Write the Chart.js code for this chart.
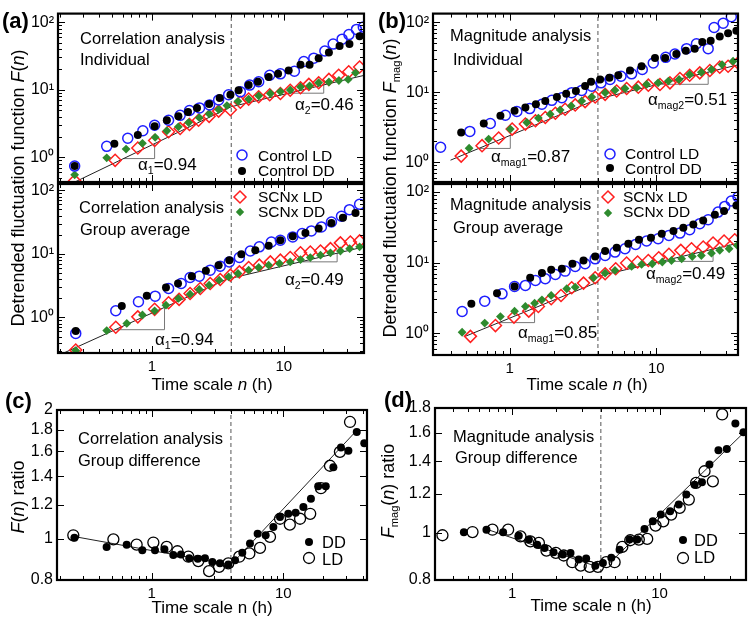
<!DOCTYPE html>
<html>
<head>
<meta charset="utf-8">
<script src="https://cdn.jsdelivr.net/npm/chart.js@4.4.1/dist/chart.umd.min.js"></script>
<style>
  body { margin: 0; background: #fff; }
  #fig { position: relative; width: 753px; height: 623px; overflow: hidden;
         font-family: "Liberation Sans", Arial, sans-serif; color: #000; }
  #fig canvas { position: absolute; left: 0; top: 0; }
  .t { position: absolute; z-index: 2; white-space: nowrap; line-height: 1; font-size: 16.5px; transform: translateY(-50%); }
  .lg { font-size: 15.5px; }
  .ax { font-size: 17px; transform: translate(-50%, -50%); }
  .vx { font-size: 18px; transform: translate(-50%, -50%) rotate(-90deg); }
  .al { font-size: 17px; }
  .pl { font-size: 22px; font-weight: bold; }
  .t sub { font-size: 0.62em; vertical-align: -0.4em; line-height: 0; }
  .mk { position: absolute; z-index: 2; transform: translate(-50%, -50%); }
</style>
</head>
<body>
<div id="fig">
  <div class="t pl" style="left:2px;top:21px">(a)</div>
  <div class="t pl" style="left:378px;top:21px">(b)</div>
  <div class="t pl" style="left:5px;top:401px">(c)</div>
  <div class="t pl" style="left:384px;top:400px">(d)</div>

  <div class="t vx" style="left:18px;top:188px">Detrended fluctuation function <i>F</i>(<i>n</i>)</div>
  <div class="t vx" style="left:390px;top:188px">Detrended fluctuation function <i>F</i><sub>mag</sub>(<i>n</i>)</div>
  <div class="t vx" style="left:18px;top:497px"><i>F</i>(<i>n</i>) ratio</div>
  <div class="t vx" style="left:388px;top:491px"><i>F</i><sub>mag</sub>(<i>n</i>) ratio</div>
  <div class="t ax" style="left:212px;top:384px">Time scale <i>n</i> (h)</div>
  <div class="t ax" style="left:587px;top:384px">Time scale <i>n</i> (h)</div>
  <div class="t ax" style="left:212px;top:607px">Time scale n (h)</div>
  <div class="t ax" style="left:591px;top:605px">Time scale n (h)</div>

  <div class="t" style="left:80px;top:38px">Correlation analysis</div>
  <div class="t" style="left:80px;top:59px">Individual</div>
  <div class="t" style="left:79px;top:207px">Correlation analysis</div>
  <div class="t" style="left:80px;top:229px">Group average</div>
  <div class="t" style="left:450px;top:35px">Magnitude analysis</div>
  <div class="t" style="left:453px;top:59px">Individual</div>
  <div class="t" style="left:450px;top:204px">Magnitude analysis</div>
  <div class="t" style="left:453px;top:227px">Group average</div>
  <div class="t" style="left:78px;top:438px">Correlation analysis</div>
  <div class="t" style="left:78px;top:460px">Group difference</div>
  <div class="t" style="left:453px;top:436px">Magnitude analysis</div>
  <div class="t" style="left:455px;top:457px">Group difference</div>

  <div class="t al" style="left:138px;top:164px">α<sub>1</sub>=0.94</div>
  <div class="t al" style="left:295px;top:104px">α<sub>2</sub>=0.46</div>
  <div class="t al" style="left:155px;top:339px">α<sub>1</sub>=0.94</div>
  <div class="t al" style="left:285px;top:279px">α<sub>2</sub>=0.49</div>
  <div class="t al" style="left:491px;top:156px">α<sub>mag1</sub>=0.87</div>
  <div class="t al" style="left:648px;top:99px">α<sub>mag2</sub>=0.51</div>
  <div class="t al" style="left:518px;top:332px">α<sub>mag1</sub>=0.85</div>
  <div class="t al" style="left:646px;top:273px">α<sub>mag2</sub>=0.49</div>

  <svg class="mk" style="left:242px;top:155px" width="14" height="14"><circle cx="7" cy="7" r="5" fill="none" stroke="#1f1fff" stroke-width="1.5"/></svg>
  <div class="t lg" style="left:258px;top:156px">Control LD</div>
  <svg class="mk" style="left:242px;top:171px" width="10" height="10"><circle cx="5" cy="5" r="4" fill="#000"/></svg>
  <div class="t lg" style="left:258px;top:171px">Control DD</div>
  <svg class="mk" style="left:240px;top:197px" width="16" height="16"><polygon points="8,2 14,8 8,14 2,8" fill="none" stroke="#ff1f1f" stroke-width="1.5"/></svg>
  <div class="t lg" style="left:258px;top:197px">SCNx LD</div>
  <svg class="mk" style="left:240px;top:212px" width="10" height="10"><polygon points="5,0.8 9.2,5 5,9.2 0.8,5" fill="#2e8b2e"/></svg>
  <div class="t lg" style="left:258px;top:212px">SCNx DD</div>

  <svg class="mk" style="left:610px;top:154px" width="14" height="14"><circle cx="7" cy="7" r="5" fill="none" stroke="#1f1fff" stroke-width="1.5"/></svg>
  <div class="t lg" style="left:625px;top:154px">Control LD</div>
  <svg class="mk" style="left:610px;top:168px" width="10" height="10"><circle cx="5" cy="5" r="4" fill="#000"/></svg>
  <div class="t lg" style="left:625px;top:169px">Control DD</div>
  <svg class="mk" style="left:608px;top:197px" width="16" height="16"><polygon points="8,2 14,8 8,14 2,8" fill="none" stroke="#ff1f1f" stroke-width="1.5"/></svg>
  <div class="t lg" style="left:623px;top:197px">SCNx LD</div>
  <svg class="mk" style="left:608px;top:213px" width="10" height="10"><polygon points="5,0.8 9.2,5 5,9.2 0.8,5" fill="#2e8b2e"/></svg>
  <div class="t lg" style="left:623px;top:212px">SCNx DD</div>

  <svg class="mk" style="left:309px;top:542px" width="10" height="10"><circle cx="5" cy="5" r="4" fill="#000"/></svg>
  <div class="t" style="left:322px;top:542px">DD</div>
  <svg class="mk" style="left:309px;top:558px" width="14" height="14"><circle cx="7" cy="7" r="5.5" fill="none" stroke="#000" stroke-width="1.3"/></svg>
  <div class="t" style="left:322px;top:559px">LD</div>
  <svg class="mk" style="left:683px;top:540px" width="10" height="10"><circle cx="5" cy="5" r="4" fill="#000"/></svg>
  <div class="t" style="left:694px;top:540px">DD</div>
  <svg class="mk" style="left:683px;top:558px" width="14" height="14"><circle cx="7" cy="7" r="5.5" fill="none" stroke="#000" stroke-width="1.3"/></svg>
  <div class="t" style="left:694px;top:557px">LD</div>
</div>

<script>
// ---- (a) correlation, individual ----
const aTopCtrlLD_n = [0.26,0.455,0.657,0.855,1.05,1.34,1.64,1.93,2.30,2.74,3.21,3.82,4.69,5.52,6.46,7.83,9.44,12.05,14.2,16.9,20.5,23.7,27.7,31.2,35.6,40.1];
const aTopCtrlLD_F = [0.74,1.45,1.91,2.47,2.98,3.53,4.17,4.92,5.38,5.96,7.04,8.41,9.31,11.7,13.1,16.4,17.2,18.8,26.2,29.3,37.5,47.4,56.0,65.5,78.2,84.6];
const aTopCtrlDD_n = [0.26,0.52,0.783,1.05,1.30,1.59,1.88,2.20,2.72,3.27,3.94,4.55,5.42,6.38,7.69,9.06,10.9,13.4,15.7,18.4,22.0,26.5,31.5,37.6];
const aTopCtrlDD_F = [0.74,1.58,2.13,2.88,3.53,4.03,4.66,5.38,6.15,7.53,8.41,9.84,11.7,13.1,15.4,17.2,19.2,23.5,23.5,29.3,35.5,44.3,47.4,61.9];
const aTopScnLD_n = [0.26,0.527,0.783,1.05,1.34,1.64,1.93,2.26,2.72,3.21,3.94,4.69,5.42,6.46,7.83,9.44,11.2,13.4,15.5,18.4,22.0,26.1,31.1,37.6];
const aTopScnLD_F = [0.45,0.90,1.37,1.77,2.39,2.67,3.05,3.53,4.03,4.82,5.04,6.51,7.27,7.87,8.41,8.79,9.84,10.7,12.0,12.7,14.2,16.4,18.4,21.7];
const aTopScnDD_n = [0.26,0.455,0.638,0.849,1.06,1.30,1.59,1.90,2.29,2.72,3.21,3.71,4.50,5.42,6.46,7.92,9.44,11.2,13.4,15.7,18.4,22.0,26.2,30.8,35.0];
const aTopScnDD_F = [0.55,0.98,1.32,1.61,1.97,2.47,2.82,3.26,3.85,4.41,5.09,5.82,6.73,7.27,8.13,8.79,9.40,9.94,11.0,11.4,12.7,13.0,13.7,14.2,17.8];
const aTopFit1 = [[0.19,0.319],[4,5.6]];
const aTopFit2 = [[4,5.6],[40.6,16.3]];
const aTopTri1 = [[0.61,0.956],[1.05,0.956],[1.05,1.59]];
const aTopTri2 = [[10.9,8.88],[20.1,8.88],[20.1,11.77]];

// ---- (a) correlation, group average ----
const aBotCtrlLD_n = [0.265,0.533,0.792,1.06,1.34,1.67,1.95,2.29,2.77,3.30,3.87,4.61,5.58,6.53,8.06,9.43,11.7,13.8,16.2,19.3,23.0,27.4,31.5,37.6];
const aBotCtrlLD_F = [0.56,1.27,1.76,2.16,2.85,3.42,4.25,4.46,5.54,6.40,7.48,8.76,11.1,12.9,15.4,16.4,18.5,20.9,23.0,26.6,31.8,39.1,49.7,60.3];
const aBotCtrlDD_n = [0.265,0.592,0.916,1.28,1.58,2.01,2.57,3.21,3.87,4.77,6.09,7.69,9.43,11.7,14.6,18.4,23.0,28.1,35.0];
const aBotCtrlDD_F = [0.61,1.51,2.19,2.96,3.42,4.46,5.41,6.64,7.96,9.88,11.4,13.4,16.4,18.9,21.4,25.0,30.7,37.2,44.1];
const aBotScnLD_n = [0.265,0.533,0.783,1.05,1.34,1.61,1.95,2.33,2.77,3.30,3.94,4.61,5.42,6.53,7.92,9.43,11.2,13.4,15.9,19.0,22.6,26.9,32.0,37.6];
const aBotScnLD_F = [0.307,0.70,1.02,1.34,1.70,1.92,2.38,2.85,3.42,3.95,4.62,5.21,6.10,6.64,7.48,7.96,8.76,10.4,10.7,11.1,12.1,14.9,15.4,16.0];
const aBotScnDD_n = [0.265,0.455,0.646,0.849,1.05,1.28,1.59,1.95,2.29,2.72,3.24,3.82,4.50,5.42,6.46,7.69,9.28,11.2,13.4,15.9,19.0,22.6,26.9,31.6,37.6];
const aBotScnDD_F = [0.30,0.62,0.805,1.09,1.27,1.56,1.99,2.32,2.75,3.22,3.86,4.35,4.91,5.54,6.10,6.64,7.05,7.48,8.15,8.76,9.53,10.4,11.1,12.1,12.9];
const aBotFit1 = [[0.19,0.245],[4,4.3]];
const aBotFit2 = [[4,4.14],[40.6,12.9]];
const aBotTri1 = [[0.527,0.64],[1.248,0.64],[1.248,1.44]];
const aBotTri2 = [[13.4,7.49],[25.4,7.49],[25.4,10.25]];

// ---- (b) magnitude, individual ----
const bTopCtrlLD_n = [0.338,0.535,0.738,0.935,1.12,1.37,1.66,1.94,2.27,2.65,3.10,3.63,4.20,4.84,5.75,6.79,8.03,9.54,11.6,13.4,16.1,18.8,22.6,24.8,28.6,32.5];
const bTopCtrlLD_F = [1.63,2.75,3.57,4.69,5.29,5.83,6.72,7.65,8.36,9.84,10.6,12.2,13.6,15.2,16.9,18.3,21.1,26.2,31.5,35.2,41.9,49.3,41.9,84.0,96.8,120];
const bTopCtrlDD_n = [0.467,0.666,0.865,1.08,1.28,1.51,1.75,2.10,2.43,2.83,3.27,3.59,4.14,4.79,5.51,6.62,7.94,9.80,11.5,13.7,15.9,18.3,20.6,23.5,27.1,30.9,35.2];
const bTopCtrlDD_F = [2.66,3.57,4.59,5.41,6.03,6.72,7.50,8.53,9.52,10.4,12.3,14.1,15.2,16.1,17.5,20.4,23.5,30.8,30.8,35.2,39.2,41.9,52.0,54.4,62.6,69.8,75.4];
const bTopScnLD_n = [0.467,0.648,0.842,1.04,1.28,1.50,1.75,2.05,2.39,2.80,3.27,3.83,4.48,5.37,6.28,7.54,8.83,10.6,12.4,14.5,16.9,19.8,23.2,27.1,30.9,36.1];
const bTopScnLD_F = [1.22,1.72,2.21,2.97,3.50,3.90,4.35,5.01,5.71,6.58,7.33,8.54,9.31,10.4,11.3,11.8,12.6,12.9,13.6,15.7,17.5,18.9,20.4,22.8,23.5,26.2];
const bTopScnDD_n = [0.529,0.719,1.01,1.31,1.57,1.89,2.21,2.63,3.10,3.63,4.48,5.23,6.12,7.35,8.59,10.3,12.1,14.3,16.9,20.3,23.8,28.1,33.4];
const bTopScnDD_F = [1.58,2.14,2.97,3.69,4.26,4.85,5.58,6.37,7.50,8.54,9.84,10.7,11.3,11.6,12.9,13.6,14.4,15.2,17.9,19.3,21.1,24.8,27.7];
const bTopFit1 = [[0.395,1.067],[4,8.0]];
const bTopFit2 = [[4,8.0],[36.1,24.6]];
const bTopTri1 = [[0.615,1.57],[1.01,1.57],[1.01,2.41]];
const bTopTri2 = [[10.3,12.97],[22.6,12.97],[22.6,19.4]];

// ---- (b) magnitude, group average ----
const bBotCtrlLD_n = [0.474,0.676,0.887,1.08,1.28,1.50,1.75,2.05,2.39,2.80,3.27,3.83,4.48,5.23,6.12,7.23,8.59,10.3,12.2,14.5,16.9,19.8,22.6,26.4,29.3,32.5,36.1];
const bBotCtrlLD_F = [2.03,2.84,3.61,4.59,4.75,5.58,5.90,6.79,7.57,8.83,9.63,11.3,12.6,14.1,15.7,18.1,20.2,21.8,24.3,26.2,29.2,35.6,40.5,52.0,62.6,74.5,84.9];
const bBotCtrlDD_n = [0.548,0.820,1.08,1.38,1.66,1.92,2.27,2.68,3.19,3.83,4.48,5.37,6.45,7.62,9.20,10.9,13.1,15.3,17.9,20.9,25.1,29.0,35.2];
const bBotCtrlDD_F = [2.61,3.69,4.59,6.09,7.10,7.91,8.18,9.63,10.7,12.2,14.6,16.2,18.5,21.1,22.5,25.6,28.0,31.2,34.8,39.6,47.7,53.7,64.7];
const bBotScnLD_n = [0.540,0.800,1.07,1.35,1.57,1.92,2.24,2.65,3.19,3.83,4.48,5.29,6.28,7.46,8.83,10.4,12.2,14.7,17.4,20.9,24.4,29.0,34.3];
const bBotScnLD_F = [0.90,1.28,1.69,2.05,2.39,3.07,3.42,4.40,5.12,6.09,6.95,8.18,9.84,10.2,10.7,11.7,13.1,14.9,15.7,16.6,18.9,20.2,21.1];
const bBotScnDD_n = [0.474,0.676,0.865,1.08,1.28,1.48,1.66,1.92,2.45,2.80,3.73,4.48,5.23,6.79,7.94,9.39,11.0,12.7,14.9,17.6,20.3,23.8,27.1,31.4,35.7];
const bBotScnDD_F = [1.03,1.39,1.72,2.05,2.39,2.66,2.97,3.42,4.26,4.49,6.09,7.10,7.74,8.83,9.42,9.63,10.2,10.7,11.3,12.2,12.6,13.6,14.9,15.7,17.5];
const bBotFit1 = [[0.499,0.903],[4,5.3]];
const bBotFit2 = [[4,6.4],[36.1,18.8]];
const bBotTri1 = [[0.842,1.41],[1.479,1.41],[1.479,2.28]];
const bBotTri2 = [[10.85,10.4],[24.4,10.4],[24.4,15.5]];

// ---- (c) correlation, group difference ----
const cDD_n = [0.259,0.455,0.646,0.849,1.06,1.25,1.46,1.67,1.93,2.24,2.54,2.89,3.30,3.82,4.30,4.88,5.58,6.38,7.34,8.40,9.43,10.9,12.4,14.2,16.2,18.4,21.0,24.0,27.4,31.2,36.1,41.2];
const cDD_r = [1.004,0.956,0.968,0.939,0.939,0.944,0.915,0.918,0.899,0.897,0.899,0.882,0.875,0.870,0.890,0.926,0.974,1.027,1.018,1.064,1.123,1.143,1.150,1.185,1.239,1.326,1.326,1.468,1.634,1.605,1.777,1.672];
const cLD_n = [0.254,0.512,0.769,1.03,1.30,1.57,1.90,2.26,2.73,3.25,3.82,4.63,5.52,6.65,7.92,9.44,11.2,13.4,16.0,19.3,22.6,26.9,32.1];
const cLD_r = [1.018,0.996,0.968,0.979,0.956,0.934,0.907,0.886,0.839,0.859,0.875,0.907,0.923,0.951,1.009,1.113,1.078,1.113,1.143,1.312,1.481,1.596,1.875];
const cFit1 = [[0.254,1.012],[4,0.868]];
const cFit2 = [[4.1,0.875],[36,1.79]];

// ---- (d) magnitude, group difference ----
const dDD_n = [0.471,0.670,0.869,1.11,1.30,1.48,1.66,1.91,2.21,2.49,2.83,3.18,3.67,4.13,4.71,5.36,6.26,7.06,7.91,9.01,10.2,11.8,13.5,15.2,17.3,19.4,21.8,25.1,28.6,32.7,37.1];
const dDD_r = [1.002,1.014,1.002,0.986,0.968,0.945,0.930,0.912,0.902,0.909,0.881,0.885,0.856,0.867,0.888,0.923,0.968,0.968,1.018,1.055,1.089,1.106,1.142,1.197,1.254,1.268,1.379,1.475,1.484,1.673,1.606];
const dLD_n = [0.337,0.539,0.736,0.940,1.14,1.33,1.52,1.71,1.98,2.24,2.56,2.92,3.36,3.82,4.35,4.96,5.59,6.33,7.24,8.25,9.40,10.6,12.0,13.7,15.8,17.7,20.2,23.0,26.6];
const dLD_r = [0.988,1.003,1.014,1.014,0.983,0.960,0.953,0.919,0.909,0.898,0.870,0.856,0.851,0.851,0.870,0.870,0.935,0.965,0.968,0.971,1.034,1.055,1.089,1.124,1.169,1.265,1.336,1.274,1.746];
const dFit1 = [[0.688,1.014],[3.73,0.853]];
const dFit2 = [[4.59,0.867],[37.6,1.606]];

// ticks and labels
const splitN = 4;
const xTickVals = [1, 10];
const decTickVals = [1, 10, 100];
const decTickLabels = ['10⁰', '10¹', '10²'];
const cTickVals = [0.8, 1, 1.2, 1.4, 1.6, 1.8, 2];
const dTickVals = [0.8, 1, 1.2, 1.4, 1.6, 1.8];

const W = 753, H = 623;
const xFont = { family: 'Liberation Sans, Arial, sans-serif', size: 15 };
const yFont = { family: 'Liberation Sans, Arial, sans-serif', size: 16 };

const pts = (xs, ys) => xs.map((x, i) => ({ x: x, y: ys[i] }));
const pairs = p => p.map(q => ({ x: q[0], y: q[1] }));

const sty = {
  ctrlLD: { pointStyle: 'circle', pointRadius: 5, borderWidth: 1.5, borderColor: '#1f1fff', backgroundColor: 'rgba(0,0,0,0)', order: 2 },
  ctrlDD: { pointStyle: 'circle', pointRadius: 4, borderWidth: 0, borderColor: '#000', backgroundColor: '#000', order: 1 },
  scnLD: { pointStyle: 'rectRot', pointRadius: 6, borderWidth: 1.5, borderColor: '#ff1f1f', backgroundColor: 'rgba(0,0,0,0)', order: 4 },
  scnDD: { pointStyle: 'rectRot', pointRadius: 4.4, borderWidth: 0, borderColor: '#2e8b2e', backgroundColor: '#2e8b2e', order: 3 },
  difDD: { pointStyle: 'circle', pointRadius: 4, borderWidth: 0, borderColor: '#000', backgroundColor: '#000', order: 1 },
  difLD: { pointStyle: 'circle', pointRadius: 5.5, borderWidth: 1.3, borderColor: '#000', backgroundColor: 'rgba(0,0,0,0)', order: 2 }
};

function series(xs, ys, s) {
  return Object.assign({ data: pts(xs, ys), showLine: false, clip: 0 }, s);
}
function line(p, color, order, dash) {
  return { data: pairs(p), showLine: true, pointRadius: 0, borderColor: color, borderWidth: 1,
           borderDash: dash || [], fill: false, clip: 0, order: order };
}
function split(y) {
  return line([[splitN, y[0]], [splitN, y[1]]], '#555', 9, [4, 3]);
}

function logTicks(min, max) {
  const major = [], minor = [];
  for (let k = Math.floor(Math.log10(min)); k <= Math.ceil(Math.log10(max)); k++) {
    for (let m = 1; m <= 9; m++) {
      const v = m * Math.pow(10, k);
      if (v < min || v > max) continue;
      (m === 1 ? major : minor).push(v);
    }
  }
  return { major, minor };
}

// inward ticks on all four sides plus the heavy frame
const framePlugin = {
  id: 'frame',
  afterDatasetsDraw(chart, args, opts) {
    const { ctx, chartArea: a } = chart;
    const x = chart.scales.x, y = chart.scales.y;
    ctx.save();
    ctx.strokeStyle = '#000';
    ctx.lineWidth = 1;
    const xt = logTicks(x.min, x.max);
    const yt = opts.ratio ? { major: opts.ratio, minor: [] } : logTicks(y.min, y.max);
    const drawX = (vals, len) => vals.forEach(v => {
      const px = Math.round(x.getPixelForValue(v)) + 0.5;
      ctx.beginPath();
      ctx.moveTo(px, a.bottom); ctx.lineTo(px, a.bottom - len);
      ctx.moveTo(px, a.top); ctx.lineTo(px, a.top + len);
      ctx.stroke();
    });
    const drawY = (vals, len) => vals.forEach(v => {
      const py = Math.round(y.getPixelForValue(v)) + 0.5;
      ctx.beginPath();
      ctx.moveTo(a.left, py); ctx.lineTo(a.left + len, py);
      ctx.moveTo(a.right, py); ctx.lineTo(a.right - len, py);
      ctx.stroke();
    });
    drawX(xt.major, 7); drawX(xt.minor, 4);
    drawY(yt.major, 7); drawY(yt.minor, 4);
    ctx.lineWidth = 2.2;
    ctx.strokeRect(a.left, a.top, a.right - a.left, a.bottom - a.top);
    ctx.restore();
  }
};

function panel(opt) {
  const cv = document.createElement('canvas');
  cv.width = W; cv.height = H;
  document.getElementById('fig').appendChild(cv);
  const [l, t, r, b] = opt.area;
  const yw = 50, xh = opt.xLabels ? 28 : 0;
  const yVals = opt.yVals || decTickVals;
  new Chart(cv, {
    type: 'scatter',
    data: { datasets: opt.datasets.concat([split(opt.y)]) },
    options: {
      responsive: false, animation: false, devicePixelRatio: 1, events: [],
      layout: { padding: { left: l - yw, top: t, right: W - r, bottom: H - b - xh } },
      plugins: { legend: { display: false }, tooltip: { enabled: false }, frame: { ratio: opt.yVals } },
      scales: {
        x: {
          type: 'logarithmic', min: opt.x[0], max: opt.x[1],
          grid: { display: false, drawTicks: false }, border: { display: false },
          afterFit: s => { s.height = xh; },
          afterBuildTicks: s => { s.ticks = xTickVals.map(v => ({ value: v })); },
          ticks: { display: !!opt.xLabels, padding: 5, font: xFont, color: '#000', maxRotation: 0,
                   callback: v => String(v) }
        },
        y: {
          type: 'logarithmic', min: opt.y[0], max: opt.y[1],
          grid: { display: false, drawTicks: false }, border: { display: false },
          afterFit: s => { s.width = yw; },
          afterBuildTicks: s => { s.ticks = yVals.map(v => ({ value: v })); },
          ticks: { padding: 4, font: yFont, color: '#000',
                   callback: v => opt.yVals ? String(v) : decTickLabels[decTickVals.indexOf(v)] }
        }
      }
    },
    plugins: [framePlugin]
  });
}

panel({
  area: [58, 12, 364, 182], x: [0.1944, 40.6], y: [0.43, 134],
  datasets: [
    series(aTopCtrlLD_n, aTopCtrlLD_F, sty.ctrlLD), series(aTopCtrlDD_n, aTopCtrlDD_F, sty.ctrlDD),
    series(aTopScnLD_n, aTopScnLD_F, sty.scnLD), series(aTopScnDD_n, aTopScnDD_F, sty.scnDD),
    line(aTopFit1, '#222', 5), line(aTopFit2, '#222', 5),
    line(aTopTri1, '#777', 6), line(aTopTri2, '#777', 6)
  ]
});
panel({
  area: [58, 184, 364, 353], x: [0.1944, 40.6], y: [0.275, 126], xLabels: true,
  datasets: [
    series(aBotCtrlLD_n, aBotCtrlLD_F, sty.ctrlLD), series(aBotCtrlDD_n, aBotCtrlDD_F, sty.ctrlDD),
    series(aBotScnLD_n, aBotScnLD_F, sty.scnLD), series(aBotScnDD_n, aBotScnDD_F, sty.scnDD),
    line(aBotFit1, '#222', 5), line(aBotFit2, '#222', 5),
    line(aBotTri1, '#777', 6), line(aBotTri2, '#777', 6)
  ]
});
panel({
  area: [433, 12, 738, 182], x: [0.304, 36.1], y: [0.52, 133],
  datasets: [
    series(bTopCtrlLD_n, bTopCtrlLD_F, sty.ctrlLD), series(bTopCtrlDD_n, bTopCtrlDD_F, sty.ctrlDD),
    series(bTopScnLD_n, bTopScnLD_F, sty.scnLD), series(bTopScnDD_n, bTopScnDD_F, sty.scnDD),
    line(bTopFit1, '#222', 5), line(bTopFit2, '#222', 5),
    line(bTopTri1, '#777', 6), line(bTopTri2, '#777', 6)
  ]
});
panel({
  area: [433, 184, 738, 355], x: [0.304, 36.1], y: [0.49, 130], xLabels: true,
  datasets: [
    series(bBotCtrlLD_n, bBotCtrlLD_F, sty.ctrlLD), series(bBotCtrlDD_n, bBotCtrlDD_F, sty.ctrlDD),
    series(bBotScnLD_n, bBotScnLD_F, sty.scnLD), series(bBotScnDD_n, bBotScnDD_F, sty.scnDD),
    line(bBotFit1, '#222', 5), line(bBotFit2, '#222', 5),
    line(bBotTri1, '#777', 6), line(bBotTri2, '#777', 6)
  ]
});
panel({
  area: [57, 410, 367, 580], x: [0.191, 43.2], y: [0.8, 2], yVals: cTickVals, xLabels: true,
  datasets: [
    series(cDD_n, cDD_r, sty.difDD), series(cLD_n, cLD_r, sty.difLD),
    line(cFit1, '#222', 5), line(cFit2, '#222', 5)
  ]
});
panel({
  area: [435, 408, 746, 580], x: [0.307, 38.6], y: [0.8, 1.8], yVals: dTickVals, xLabels: true,
  datasets: [
    series(dDD_n, dDD_r, sty.difDD), series(dLD_n, dLD_r, sty.difLD),
    line(dFit1, '#222', 5), line(dFit2, '#222', 5)
  ]
});
</script>
</body>
</html>
